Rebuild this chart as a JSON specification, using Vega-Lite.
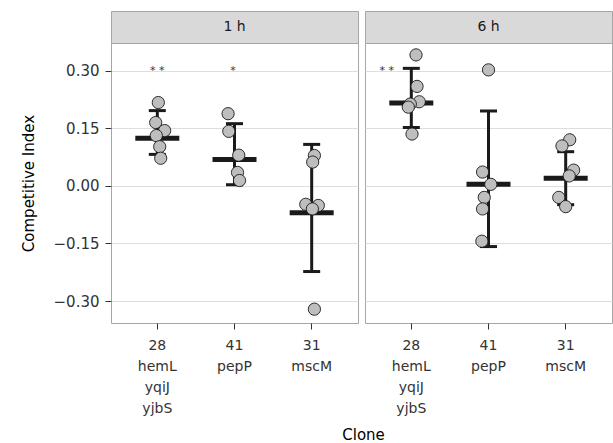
{
  "$schema": "https://vega.github.io/schema/vega-lite/v6.json",
  "padding": {"left": 20, "top": 10, "right": 0, "bottom": 0},
  "title": {"text": "Clone", "orient": "bottom", "anchor": "middle", "frame": "bounds", "fontSize": 15, "fontWeight": "normal", "color": "#000000", "dx": 47, "offset": 12},
  "config": {
    "font": "DejaVu Sans",
    "view": {"stroke": "#A6A6A6"},
    "axis": {"domain": false, "tickColor": "#333333", "tickSize": 6, "labelColor": "#333333", "labelFontSize": 14, "titleFontSize": 15, "titleFontWeight": "normal", "titleColor": "#000000", "gridColor": "#DEDEDE"},
    "axisX": {"grid": false, "labelAngle": 0, "labelLineHeight": 21, "labelExpr": "split(datum.label, ' ')", "labelPadding": 9},
    "axisY": {"grid": true, "labelPadding": 6, "labelFontSize": 15, "titlePadding": 17}
  },
  "datasets": {
    "pts": [
      {"time": "1 h", "clone": "28 hemL yqiJ yjbS", "ci": 0.217, "jit": 0.013},
      {"time": "1 h", "clone": "28 hemL yqiJ yjbS", "ci": 0.165, "jit": -0.021},
      {"time": "1 h", "clone": "28 hemL yqiJ yjbS", "ci": 0.144, "jit": 0.095},
      {"time": "1 h", "clone": "28 hemL yqiJ yjbS", "ci": 0.131, "jit": -0.013},
      {"time": "1 h", "clone": "28 hemL yqiJ yjbS", "ci": 0.102, "jit": 0.031},
      {"time": "1 h", "clone": "28 hemL yqiJ yjbS", "ci": 0.072, "jit": 0.044},
      {"time": "1 h", "clone": "41 pepP", "ci": 0.188, "jit": -0.083},
      {"time": "1 h", "clone": "41 pepP", "ci": 0.142, "jit": -0.074},
      {"time": "1 h", "clone": "41 pepP", "ci": 0.080, "jit": 0.055},
      {"time": "1 h", "clone": "41 pepP", "ci": 0.035, "jit": 0.039},
      {"time": "1 h", "clone": "41 pepP", "ci": 0.014, "jit": 0.065},
      {"time": "1 h", "clone": "31 mscM", "ci": 0.079, "jit": 0.035},
      {"time": "1 h", "clone": "31 mscM", "ci": 0.062, "jit": 0.013},
      {"time": "1 h", "clone": "31 mscM", "ci": -0.048, "jit": -0.077},
      {"time": "1 h", "clone": "31 mscM", "ci": -0.051, "jit": 0.086},
      {"time": "1 h", "clone": "31 mscM", "ci": -0.060, "jit": 0.009},
      {"time": "1 h", "clone": "31 mscM", "ci": -0.321, "jit": 0.035},
      {"time": "6 h", "clone": "28 hemL yqiJ yjbS", "ci": 0.341, "jit": 0.061},
      {"time": "6 h", "clone": "28 hemL yqiJ yjbS", "ci": 0.259, "jit": 0.074},
      {"time": "6 h", "clone": "28 hemL yqiJ yjbS", "ci": 0.219, "jit": 0.103},
      {"time": "6 h", "clone": "28 hemL yqiJ yjbS", "ci": 0.213, "jit": -0.013},
      {"time": "6 h", "clone": "28 hemL yqiJ yjbS", "ci": 0.205, "jit": -0.039},
      {"time": "6 h", "clone": "28 hemL yqiJ yjbS", "ci": 0.135, "jit": 0.009},
      {"time": "6 h", "clone": "41 pepP", "ci": 0.302, "jit": 0.0},
      {"time": "6 h", "clone": "41 pepP", "ci": 0.036, "jit": -0.077},
      {"time": "6 h", "clone": "41 pepP", "ci": 0.004, "jit": 0.030},
      {"time": "6 h", "clone": "41 pepP", "ci": -0.030, "jit": -0.055},
      {"time": "6 h", "clone": "41 pepP", "ci": -0.060, "jit": -0.077},
      {"time": "6 h", "clone": "41 pepP", "ci": -0.144, "jit": -0.086},
      {"time": "6 h", "clone": "31 mscM", "ci": 0.120, "jit": 0.052},
      {"time": "6 h", "clone": "31 mscM", "ci": 0.104, "jit": -0.048},
      {"time": "6 h", "clone": "31 mscM", "ci": 0.041, "jit": 0.103},
      {"time": "6 h", "clone": "31 mscM", "ci": 0.026, "jit": 0.046},
      {"time": "6 h", "clone": "31 mscM", "ci": -0.030, "jit": -0.090},
      {"time": "6 h", "clone": "31 mscM", "ci": -0.054, "jit": 0.0}
    ],
    "summ": [
      {"time": "1 h", "clone": "28 hemL yqiJ yjbS", "mean": 0.124, "lo": 0.082, "hi": 0.196},
      {"time": "1 h", "clone": "41 pepP", "mean": 0.069, "lo": 0.003, "hi": 0.162},
      {"time": "1 h", "clone": "31 mscM", "mean": -0.070, "lo": -0.223, "hi": 0.108},
      {"time": "6 h", "clone": "28 hemL yqiJ yjbS", "mean": 0.216, "lo": 0.152, "hi": 0.306},
      {"time": "6 h", "clone": "41 pepP", "mean": 0.004, "lo": -0.158, "hi": 0.195},
      {"time": "6 h", "clone": "31 mscM", "mean": 0.020, "lo": -0.049, "hi": 0.089}
    ],
    "sig": [
      {"time": "1 h", "clone": "28 hemL yqiJ yjbS", "label": "* *", "y": 0.30, "jit": 0.0},
      {"time": "1 h", "clone": "41 pepP", "label": "*", "y": 0.30, "jit": -0.02},
      {"time": "6 h", "clone": "28 hemL yqiJ yjbS", "label": "* *", "y": 0.30, "jit": -0.317}
    ]
  },
  "spacing": 5,
  "resolve": {"scale": {"x": "independent", "y": "independent", "xOffset": "independent"}},
  "hconcat": [
    {
      "bounds": "flush",
      "spacing": 0,
      "vconcat": [
        {
          "width": 247, "height": 32,
          "view": {"fill": "#D9D9D9", "stroke": "#A6A6A6"},
          "data": {"values": [{"time": "1 h"}]},
          "mark": {"type": "text", "fontSize": 14, "color": "#1A1A1A", "baseline": "middle"},
          "encoding": {"text": {"field": "time"}}
        },
        {
          "width": 247, "height": 280,
          "encoding": {
            "x": {"field": "clone", "type": "nominal", "sort": ["28 hemL yqiJ yjbS", "41 pepP", "31 mscM"], "scale": {"type": "band", "paddingInner": 0, "paddingOuter": 0.1}, "axis": {"title": null}}
          },
          "layer": [
            {
              "mark": {"type": "rule", "color": "#1A1A1A", "strokeWidth": 1, "strokeDash": [3, 2]},
              "encoding": {"x": null, "y": {"datum": 0, "type": "quantitative", "scale": {"domain": [-0.357, 0.372], "nice": false, "zero": false}, "title": "Competitive Index", "axis": {"values": [-0.3, -0.15, 0, 0.15, 0.3], "format": ".2f"}}}
            },
            {
              "data": {"name": "summ"}, "transform": [{"filter": "datum.time === '1 h'"}],
              "mark": {"type": "rule", "color": "#1A1A1A", "strokeWidth": 3},
              "encoding": {"y": {"field": "lo", "type": "quantitative", "title": "Competitive Index"}, "y2": {"field": "hi"}}
            },
            {
              "data": {"name": "summ"}, "transform": [{"filter": "datum.time === '1 h'"}],
              "mark": {"type": "tick", "color": "#1A1A1A", "size": 17, "thickness": 3, "opacity": 1},
              "encoding": {"y": {"field": "lo", "type": "quantitative", "title": "Competitive Index"}}
            },
            {
              "data": {"name": "summ"}, "transform": [{"filter": "datum.time === '1 h'"}],
              "mark": {"type": "tick", "color": "#1A1A1A", "size": 17, "thickness": 3, "opacity": 1},
              "encoding": {"y": {"field": "hi", "type": "quantitative", "title": "Competitive Index"}}
            },
            {
              "data": {"name": "summ"}, "transform": [{"filter": "datum.time === '1 h'"}],
              "mark": {"type": "tick", "color": "#1A1A1A", "size": 44, "thickness": 5, "opacity": 1},
              "encoding": {"y": {"field": "mean", "type": "quantitative", "title": "Competitive Index"}}
            },
            {
              "data": {"name": "pts"}, "transform": [{"filter": "datum.time === '1 h'"}],
              "mark": {"type": "circle", "size": 150, "fill": "#BEBEBE", "stroke": "#1A1A1A", "strokeWidth": 0.9, "opacity": 1},
              "encoding": {"y": {"field": "ci", "type": "quantitative", "title": "Competitive Index"}, "xOffset": {"field": "jit", "type": "quantitative", "scale": {"domain": [-0.5, 0.5]}}}
            },
            {
              "data": {"name": "sig"}, "transform": [{"filter": "datum.time === '1 h'"}],
              "mark": {"type": "text", "fontSize": 11, "color": "#333333", "baseline": "middle"},
              "encoding": {"y": {"field": "y", "type": "quantitative", "title": "Competitive Index"}, "xOffset": {"field": "jit", "type": "quantitative", "scale": {"domain": [-0.5, 0.5]}}, "text": {"field": "label"}}
            }
          ]
        }
      ]
    },
    {
      "bounds": "flush",
      "spacing": 0,
      "vconcat": [
        {
          "width": 247, "height": 32,
          "view": {"fill": "#D9D9D9", "stroke": "#A6A6A6"},
          "data": {"values": [{"time": "6 h"}]},
          "mark": {"type": "text", "fontSize": 14, "color": "#1A1A1A", "baseline": "middle"},
          "encoding": {"text": {"field": "time"}}
        },
        {
          "width": 247, "height": 280,
          "encoding": {
            "x": {"field": "clone", "type": "nominal", "sort": ["28 hemL yqiJ yjbS", "41 pepP", "31 mscM"], "scale": {"type": "band", "paddingInner": 0, "paddingOuter": 0.1}, "axis": {"title": null}}
          },
          "layer": [
            {
              "mark": {"type": "rule", "color": "#1A1A1A", "strokeWidth": 1, "strokeDash": [3, 2]},
              "encoding": {"x": null, "y": {"datum": 0, "type": "quantitative", "scale": {"domain": [-0.357, 0.372], "nice": false, "zero": false}, "title": null, "axis": {"values": [-0.3, -0.15, 0, 0.15, 0.3], "labels": false, "ticks": false, "title": null}}}
            },
            {
              "data": {"name": "summ"}, "transform": [{"filter": "datum.time === '6 h'"}],
              "mark": {"type": "rule", "color": "#1A1A1A", "strokeWidth": 3},
              "encoding": {"y": {"field": "lo", "type": "quantitative", "title": null}, "y2": {"field": "hi"}}
            },
            {
              "data": {"name": "summ"}, "transform": [{"filter": "datum.time === '6 h'"}],
              "mark": {"type": "tick", "color": "#1A1A1A", "size": 17, "thickness": 3, "opacity": 1},
              "encoding": {"y": {"field": "lo", "type": "quantitative", "title": null}}
            },
            {
              "data": {"name": "summ"}, "transform": [{"filter": "datum.time === '6 h'"}],
              "mark": {"type": "tick", "color": "#1A1A1A", "size": 17, "thickness": 3, "opacity": 1},
              "encoding": {"y": {"field": "hi", "type": "quantitative", "title": null}}
            },
            {
              "data": {"name": "summ"}, "transform": [{"filter": "datum.time === '6 h'"}],
              "mark": {"type": "tick", "color": "#1A1A1A", "size": 44, "thickness": 5, "opacity": 1},
              "encoding": {"y": {"field": "mean", "type": "quantitative", "title": null}}
            },
            {
              "data": {"name": "pts"}, "transform": [{"filter": "datum.time === '6 h'"}],
              "mark": {"type": "circle", "size": 150, "fill": "#BEBEBE", "stroke": "#1A1A1A", "strokeWidth": 0.9, "opacity": 1},
              "encoding": {"y": {"field": "ci", "type": "quantitative", "title": null}, "xOffset": {"field": "jit", "type": "quantitative", "scale": {"domain": [-0.5, 0.5]}}}
            },
            {
              "data": {"name": "sig"}, "transform": [{"filter": "datum.time === '6 h'"}],
              "mark": {"type": "text", "fontSize": 11, "color": "#333333", "baseline": "middle"},
              "encoding": {"y": {"field": "y", "type": "quantitative", "title": null}, "xOffset": {"field": "jit", "type": "quantitative", "scale": {"domain": [-0.5, 0.5]}}, "text": {"field": "label"}}
            }
          ]
        }
      ]
    }
  ]
}
